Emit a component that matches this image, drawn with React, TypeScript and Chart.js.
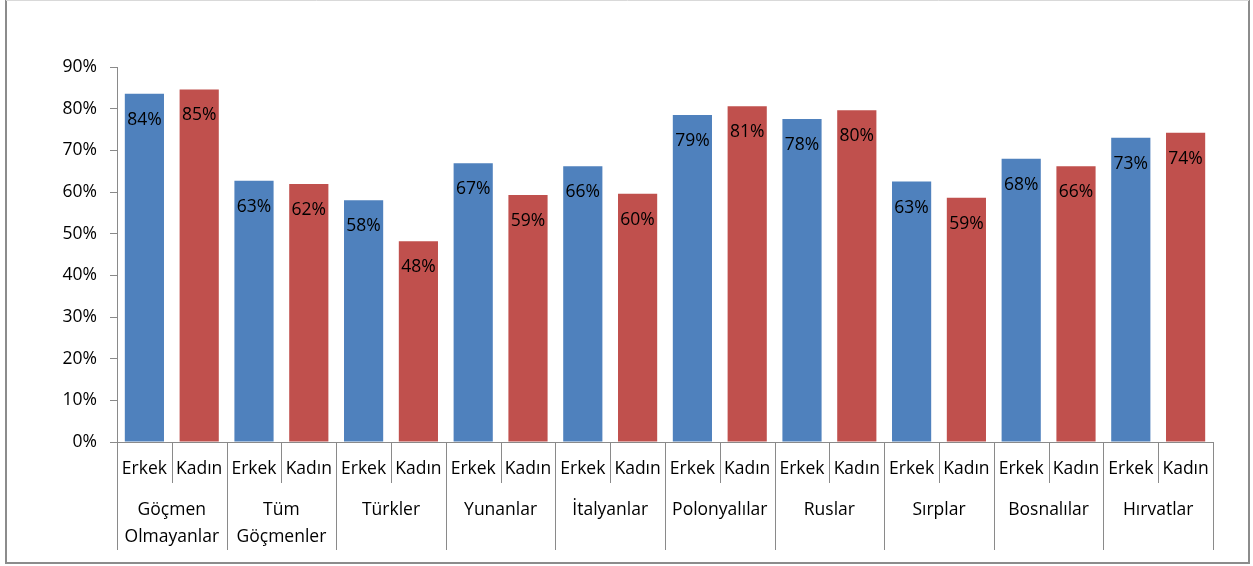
import React, { useEffect, useRef } from 'react';
import { Chart, registerables } from 'chart.js';

Chart.register(...registerables);

const groupNames: string[][] = [
  ['Göçmen', 'Olmayanlar'],
  ['Tüm', 'Göçmenler'],
  ['Türkler'],
  ['Yunanlar'],
  ['İtalyanlar'],
  ['Polonyalılar'],
  ['Ruslar'],
  ['Sırplar'],
  ['Bosnalılar'],
  ['Hırvatlar'],
];
const genders = ['Erkek', 'Kadın'];
const erkekValues = [83.6, 62.7, 58.0, 66.9, 66.2, 78.5, 77.5, 62.5, 68.0, 73.0];
const kadinValues = [84.6, 61.9, 48.2, 59.3, 59.6, 80.6, 79.6, 58.6, 66.2, 74.2];
const yTicks = [0, 10, 20, 30, 40, 50, 60, 70, 80, 90];

const BLUE = '#4F81BD';
const RED = '#C0504D';
const AXIS = '#8a8a8a';
const FONT = '"Open Sans", "Noto Sans", sans-serif';
const FS = 17.5;

const labels: string[] = [];
const values: number[] = [];
const colors: string[] = [];
groupNames.forEach((_, i) => {
  labels.push(genders[0], genders[1]);
  values.push(erkekValues[i], kadinValues[i]);
  colors.push(BLUE, RED);
});

const customPlugin = {
  id: 'customDraw',
  afterDatasetsDraw(chart: any) {
    const { ctx } = chart;
    const meta = chart.getDatasetMeta(0);
    ctx.save();
    ctx.fillStyle = '#000';
    ctx.font = `${FS}px ${FONT}`;
    ctx.textAlign = 'center';
    ctx.textBaseline = 'middle';
    meta.data.forEach((bar: any, i: number) => {
      ctx.fillText(Math.round(values[i]) + '%', bar.x, bar.y + 26);
    });
    ctx.restore();
  },
  afterDraw(chart: any) {
    const { ctx, chartArea } = chart;
    const x = chart.scales.x;
    const n = labels.length;
    const step = x.getPixelForValue(1) - x.getPixelForValue(0);
    const bottom = chartArea.bottom;
    ctx.save();
    ctx.strokeStyle = AXIS;
    ctx.lineWidth = 1;
    for (let k = 0; k <= n; k++) {
      const px = Math.round(x.getPixelForValue(0) - step / 2 + k * step) + 0.5;
      const len = k % 2 === 0 ? 108 : 41;
      ctx.beginPath();
      ctx.moveTo(px, bottom);
      ctx.lineTo(px, bottom + len);
      ctx.stroke();
    }
    ctx.fillStyle = '#000';
    ctx.font = `${FS}px ${FONT}`;
    ctx.textAlign = 'center';
    ctx.textBaseline = 'middle';
    for (let i = 0; i < n; i++) {
      ctx.fillText(labels[i], x.getPixelForValue(i), bottom + 27);
    }
    groupNames.forEach((lines, g) => {
      const cx = (x.getPixelForValue(2 * g) + x.getPixelForValue(2 * g + 1)) / 2;
      lines.forEach((line, li) => {
        ctx.fillText(line, cx, bottom + 68 + li * 27);
      });
    });
    // outer border
    ctx.strokeStyle = '#8c8c8c';
    ctx.lineWidth = 2;
    ctx.beginPath();
    ctx.moveTo(6, 0);
    ctx.lineTo(6, 563);
    ctx.lineTo(1249, 563);
    ctx.lineTo(1249, 0);
    ctx.stroke();
    ctx.strokeStyle = '#d9d9d9';
    ctx.lineWidth = 1;
    ctx.beginPath();
    ctx.moveTo(6, 0.5);
    ctx.lineTo(1249, 0.5);
    ctx.stroke();
    ctx.restore();
  },
};

export default function App() {
  const ref = useRef<HTMLCanvasElement>(null);
  useEffect(() => {
    document.body.style.margin = '0';
    const chart = new Chart(ref.current as HTMLCanvasElement, {
      type: 'bar',
      data: {
        labels,
        datasets: [
          {
            data: values,
            backgroundColor: colors,
            borderWidth: 0,
            barPercentage: 0.715,
            categoryPercentage: 1,
          },
        ],
      },
      options: {
        responsive: false,
        animation: false,
        devicePixelRatio: 1,
        layout: { padding: { left: 0, right: 40, top: 67, bottom: 124 } },
        plugins: { legend: { display: false }, tooltip: { enabled: false } },
        scales: {
          x: {
            ticks: { display: false },
            grid: { display: false },
            border: { display: true, color: AXIS, width: 1 },
            afterFit: (s: any) => {
              s.height = 0;
            },
          },
          y: {
            min: 0,
            max: 90,
            afterBuildTicks: (s: any) => {
              s.ticks = yTicks.map((v) => ({ value: v }));
            },
            ticks: {
              callback: (v: any) => v + '%',
              color: '#000',
              font: { family: FONT, size: FS },
              padding: 13,
            },
            grid: { drawOnChartArea: false, tickLength: 7, color: AXIS },
            border: { display: true, color: AXIS, width: 1 },
            afterFit: (s: any) => {
              s.width = 117;
            },
          },
        },
      },
      plugins: [customPlugin],
    });
    return () => chart.destroy();
  }, []);
  return (
    <div style={{ position: 'absolute', left: 0, top: 0, width: 1253, height: 566, background: '#fff' }}>
      <canvas ref={ref} width={1253} height={566} style={{ display: 'block' }} />
    </div>
  );
}
